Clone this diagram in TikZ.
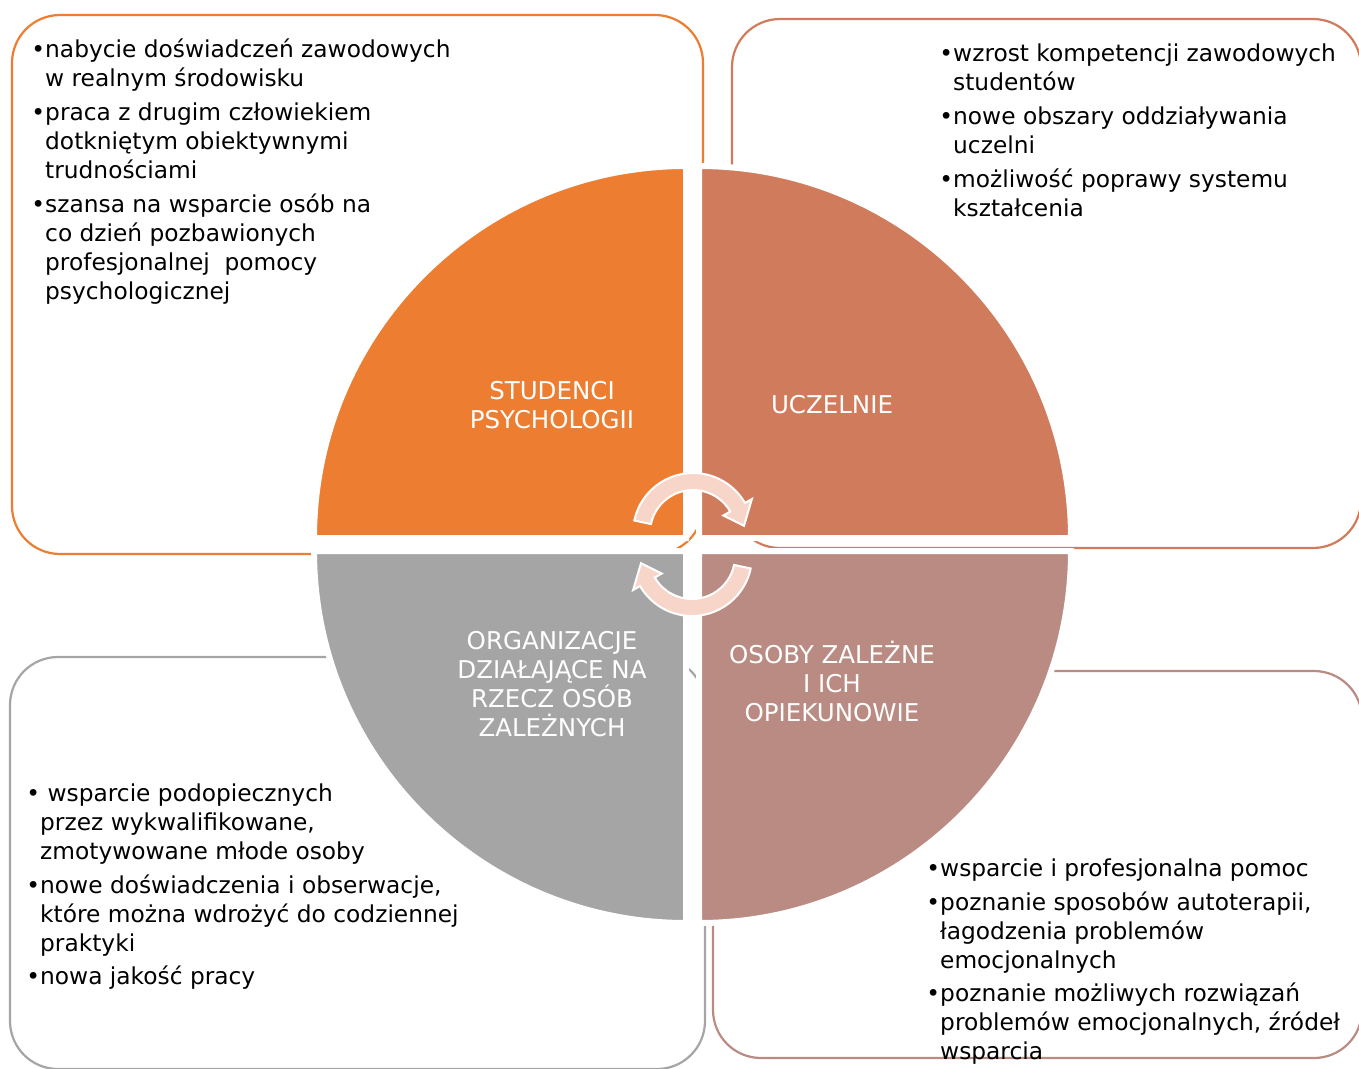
\documentclass[tikz,border=0pt]{standalone}
\usepackage{fontspec}
\setmainfont{DejaVu Sans}
\usetikzlibrary{calc}
\definecolor{cOrange}{RGB}{237,125,49}
\definecolor{cTerra}{RGB}{209,123,93}
\definecolor{cGray}{RGB}{165,165,165}
\definecolor{cRose}{RGB}{185,139,130}
\definecolor{cArrow}{RGB}{248,213,201}
\begin{document}
\begin{tikzpicture}[x=1pt,y=-1pt,
  box/.style={line width=2.2pt, rounded corners=48pt},
  quad/.style={draw=white, line width=6pt},
  cyc/.style={fill=cArrow, draw=white, line width=2pt, line join=miter},
  listtext/.style={anchor=base west, align=left, inner sep=0pt, text=black,
    font=\fontsize{23.3pt}{29pt}\selectfont},
  quadlabel/.style={anchor=base, align=center, inner sep=0pt, text=white,
    font=\fontsize{24.5pt}{29pt}\selectfont}]
\useasboundingbox (0,0) rectangle (1359,1068);

% background boxes
\draw[box, draw=cOrange] (12,15) rectangle (703,554);
\draw[box, draw=cTerra] (732,19) rectangle (1361,548);
\draw[box, draw=cGray] (10,657) rectangle (705,1069);
\draw[box, draw=cRose] (713,671) rectangle (1362,1058);

% quadrants
\filldraw[quad, fill=cOrange] (686,538) -- (314,538) arc[start angle=180, end angle=270, radius=372] -- cycle;
\filldraw[quad, fill=cTerra] (699,538) -- (699,166) arc[start angle=270, end angle=360, radius=372] -- cycle;
\filldraw[quad, fill=cGray] (686,551) -- (686,923) arc[start angle=90, end angle=180, radius=372] -- cycle;
\filldraw[quad, fill=cRose] (699,551) -- (1071,551) arc[start angle=0, end angle=90, radius=372] -- cycle;

% circular arrows
\coordinate (c1) at (693,533);
\coordinate (c2) at (692,556);
\filldraw[cyc] ($(c1)+(-168:60)$) arc[start angle=-168, end angle=-30, radius=60]
  -- ($(c1)+(-30:68)$) -- ($(c1)+(-8:51.5)$) -- ($(c1)+(-30:35)$) -- ($(c1)+(-30:43)$)
  arc[start angle=-30, end angle=-168, radius=43] -- cycle;
\filldraw[cyc] ($(c2)+(12:60)$) arc[start angle=12, end angle=150, radius=60]
  -- ($(c2)+(150:68)$) -- ($(c2)+(172:51.5)$) -- ($(c2)+(150:35)$) -- ($(c2)+(150:43)$)
  arc[start angle=150, end angle=12, radius=43] -- cycle;

% quadrant labels (anchor = baseline of last line)
\node[quadlabel] (lstud) at (552,428) {STUDENCI\\PSYCHOLOGII};
\node[quadlabel] (lucz) at (832,413) {UCZELNIE};
\node[quadlabel] (lorg) at (552,736) {ORGANIZACJE\\DZIAŁAJĄCE NA\\RZECZ OSÓB\\ZALEŻNYCH};
\node[quadlabel] (losob) at (832,721) {OSOBY ZALEŻNE\\I ICH\\OPIEKUNOWIE};

% lists (anchor = baseline of last line)
\node[listtext] (tstud) at (45,299) {\llap{•}nabycie doświadczeń zawodowych\\
w realnym środowisku\\[5pt]
\llap{•}praca z drugim człowiekiem\\
dotkniętym obiektywnymi\\
trudnościami\\[5pt]
\llap{•}szansa na wsparcie osób na\\
co dzień pozbawionych\\
profesjonalnej\ \ pomocy\\
psychologicznej};

\node[listtext] (tucz) at (953,216) {\llap{•}wzrost kompetencji zawodowych\\
studentów\\[5pt]
\llap{•}nowe obszary oddziaływania\\
uczelni\\[5pt]
\llap{•}możliwość poprawy systemu\\
kształcenia};

\node[listtext] (torg) at (40,984) {\llap{•}\ wsparcie podopiecznych\\
przez wykwalifikowane,\\
zmotywowane młode osoby\\[5pt]
\llap{•}nowe doświadczenia i obserwacje,\\
które można wdrożyć do codziennej\\
praktyki\\[4pt]
\llap{•}nowa jakość pracy};

\node[listtext] (tosob) at (940,1059) {\llap{•}wsparcie i profesjonalna pomoc\\[5pt]
\llap{•}poznanie sposobów autoterapii,\\
łagodzenia problemów\\
emocjonalnych\\[4pt]
\llap{•}poznanie możliwych rozwiązań\\
problemów emocjonalnych, źródeł\\
wsparcia};
\end{tikzpicture}
\end{document}
